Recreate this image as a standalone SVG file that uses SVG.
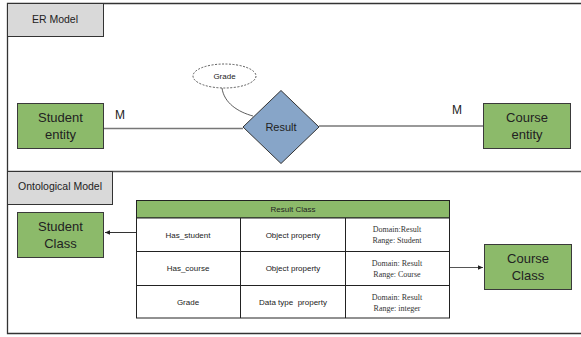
<svg xmlns="http://www.w3.org/2000/svg" width="581" height="337" viewBox="0 0 581 337">
<style>
.frame{fill:none;stroke:#333;stroke-width:1.3}
.lbl{fill:#d9d9d9;stroke:#333;stroke-width:1}
.ent{fill:#8cba6a;stroke:#3a3a3a;stroke-width:1}
.t{font-family:"Liberation Sans",Arial,sans-serif;fill:#222;text-anchor:middle}
.big{font-size:13px}
.sm{font-size:8px}
.ser{font-family:"Liberation Serif","Times New Roman",serif;font-size:8px;fill:#333;text-anchor:middle}
.ln{stroke:#777;stroke-width:1.3;fill:none}
.cell{fill:#fff;stroke:#222;stroke-width:1}
</style>
<defs>
<marker id="ah" markerWidth="6" markerHeight="6" refX="5" refY="3" orient="auto" markerUnits="userSpaceOnUse">
<path d="M0,0.8 L5,3 L0,5.2 Z" fill="#222"/>
</marker>
</defs>
<rect width="581" height="337" fill="#fff"/>
<g id="frames">
<path class="frame" d="M585,3.5 H7.5 V333.5 H585"/>
<line x1="7" y1="171.5" x2="585" y2="171.5" stroke="#555" stroke-width="1.5"/>
<rect class="lbl" x="7.5" y="3.5" width="96" height="33"/>
<text class="t" x="55" y="23" font-size="10.5">ER Model</text>
<rect class="lbl" x="7.5" y="171.5" width="105" height="33"/>
<text class="t" x="60" y="190" font-size="10.5">Ontological Model</text>
</g>
<g id="connectors">
<line class="ln" x1="104" y1="128.5" x2="243" y2="128.5"/>
<line class="ln" x1="319" y1="126" x2="483" y2="126"/>
<path d="M222,88 C224,103 238,112 253,116" fill="none" stroke="#333" stroke-width="0.8"/>
<line x1="136" y1="232.5" x2="105" y2="232.5" stroke="#333" stroke-width="1" marker-end="url(#ah)"/>
<line x1="450" y1="267.5" x2="483" y2="267.5" stroke="#555" stroke-width="1" marker-end="url(#ah)"/>
<text class="t" x="120" y="119" font-size="12">M</text>
<text class="t" x="457" y="114" font-size="12">M</text>
</g>
<g id="student-entity">
<rect class="ent" x="17.5" y="103.5" width="86" height="45"/>
<text class="t big" x="60.5" y="122">Student</text>
<text class="t big" x="60.5" y="139">entity</text>
</g>
<g id="course-entity">
<rect class="ent" x="483.5" y="103.5" width="87" height="45"/>
<text class="t big" x="527" y="122">Course</text>
<text class="t big" x="527" y="139">entity</text>
</g>
<g id="result">
<polygon points="281,90.5 319,127 281,163.5 243,127" fill="#87a5c8" stroke="#333" stroke-width="1"/>
<text class="t" x="281" y="131" font-size="11">Result</text>
</g>
<g id="grade">
<ellipse cx="224.5" cy="76" rx="31.5" ry="12" fill="#fff" stroke="#333" stroke-width="0.8" stroke-dasharray="2,1.5"/>
<text class="t sm" x="224.5" y="79">Grade</text>
</g>
<g id="student-class">
<rect class="ent" x="17.5" y="212.5" width="86" height="45"/>
<text class="t big" x="60.5" y="231">Student</text>
<text class="t big" x="60.5" y="248">Class</text>
</g>
<g id="course-class">
<rect class="ent" x="484.5" y="244.5" width="87" height="45"/>
<text class="t big" x="528" y="263">Course</text>
<text class="t big" x="528" y="280">Class</text>
</g>
<g id="result-class">
<rect x="136.5" y="200.5" width="313" height="17.5" fill="#8cba6a" stroke="#222" stroke-width="1"/>
<text class="t sm" x="293" y="212">Result Class</text>
<rect class="cell" x="136.5" y="218" width="313" height="100"/>
<line x1="136.5" y1="251.5" x2="449.5" y2="251.5" stroke="#222"/>
<line x1="136.5" y1="285.5" x2="449.5" y2="285.5" stroke="#222"/>
<line x1="240.5" y1="218" x2="240.5" y2="318" stroke="#222"/>
<line x1="345.5" y1="218" x2="345.5" y2="318" stroke="#222"/>
<text class="t sm" x="188" y="238">Has_student</text>
<text class="t sm" x="188" y="271">Has_course</text>
<text class="t sm" x="188" y="305">Grade</text>
<text class="t sm" x="293" y="238">Object property</text>
<text class="t sm" x="293" y="271">Object property</text>
<text class="t sm" x="293" y="305" style="white-space:pre">Data type  property</text>
<text class="ser" x="397" y="232">Domain:Result</text>
<text class="ser" x="397" y="243">Range: Student</text>
<text class="ser" x="397" y="266">Domain: Result</text>
<text class="ser" x="397" y="277">Range: Course</text>
<text class="ser" x="397" y="300">Domain: Result</text>
<text class="ser" x="397" y="311">Range: integer</text>
</g>
</svg>
